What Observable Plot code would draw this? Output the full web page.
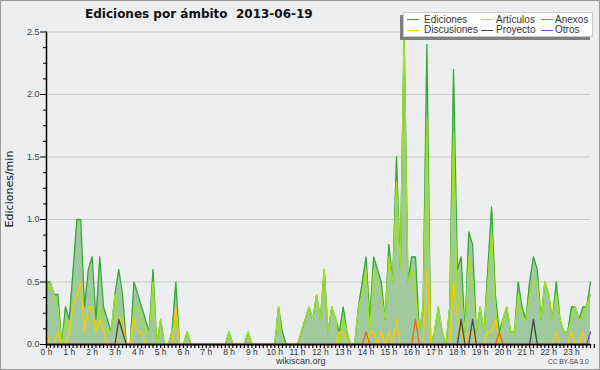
<!DOCTYPE html>
<html><head><meta charset="utf-8">
<script src="https://cdn.jsdelivr.net/npm/d3@7"></script>
<script src="https://cdn.jsdelivr.net/npm/@observablehq/plot@0.6"></script>
<style>
html,body{margin:0;padding:0;background:#edeef0;}
#wrap{position:relative;width:600px;height:370px;overflow:hidden;background:#edeef0;font-family:"Liberation Sans",Arial,sans-serif;}
#chart{position:absolute;left:0;top:0;}
#frame{position:absolute;left:0;top:0;width:600px;height:370px;box-sizing:border-box;border:1px solid #9a9a9a;pointer-events:none;}
.abs{position:absolute;white-space:nowrap;line-height:1;}
#title{left:85px;top:7.5px;font-family:"DejaVu Sans",sans-serif;font-size:12px;font-weight:bold;color:#111;}
#ytitle{left:8.5px;top:189px;font-family:"DejaVu Sans",sans-serif;font-size:11px;color:#111;transform:translate(-50%,-50%) rotate(-90deg);}
#legend{position:absolute;left:403px;top:12px;width:190px;height:25px;box-sizing:border-box;background:#fff;border:1px solid #c8c8c8;box-shadow:-3px 3px 0 #808080;}
.sw{position:absolute;width:12px;height:1.4px;}
.lt{position:absolute;font-size:10px;line-height:1;color:#333;white-space:nowrap;}
#src{left:276px;top:356.5px;font-size:9px;color:#333;}
#lic{left:548px;top:358.5px;font-size:6.5px;color:#444;}
</style></head><body>
<div id="wrap">
  <div id="chart"></div>
  <div id="title" class="abs">Ediciones por ámbito&nbsp;&nbsp;2013-06-19</div>
  <div id="ytitle" class="abs">Ediciones/min</div>
  <div id="legend"></div>
  <div id="src" class="abs">wikiscan.org</div>
  <div id="lic" class="abs">CC BY-SA 3.0</div>
  <div id="frame"></div>
</div>
<script>
// 10-minute slots 0..143 (00:00 .. 23:50), values in edits/min
const ediciones = [
  0.5,0.5,0.4,0.4,0,0.3,0.2,0.6,1.0,1.0,0.3,0.6,
  0.7,0.2,0.7,0.3,0.2,0.1,0.4,0.6,0.4,0,0,0.5,
  0.4,0.3,0.2,0.1,0.6,0,0.2,0,0,0.1,0.5,0,
  0,0.1,0,0,0,0,0,0,0,0,0,0,
  0.1,0,0,0,0,0.1,0,0,0,0,0,0,
  0,0.3,0.1,0,0,0,0,0.1,0.2,0.3,0.2,0.4,
  0.2,0.6,0.1,0.3,0.2,0.1,0.3,0.1,0,0,0.3,0.5,
  0.7,0.2,0.7,0.6,0.5,0.2,0.8,0.5,1.5,0.6,2.5,0.5,
  0.7,0.7,0.1,0.3,2.4,0,0.1,0.3,0.1,0,0.3,2.2,
  0.6,0.7,0.1,0.9,0.8,0.1,0.3,0.1,0.6,1.1,0.4,0.1,
  0.2,0.3,0.1,0.1,0.5,0.3,0.2,0.5,0.7,0.6,0.2,0.5,
  0.4,0.2,0.5,0.2,0.1,0.1,0.3,0.3,0.2,0.3,0.3,0.5
];
const articulos = [
  0.4,0.5,0.4,0.3,0,0.2,0.1,0.3,0.4,0.4,0.2,0.2,
  0.2,0.1,0.3,0.2,0.1,0.1,0.4,0.2,0.1,0,0,0.3,
  0.3,0.2,0.1,0.1,0.5,0,0.2,0,0,0.1,0.2,0,
  0,0.1,0,0,0,0,0,0,0,0,0,0,
  0.1,0,0,0,0,0.1,0,0,0,0,0,0,
  0,0.3,0,0,0,0,0,0.1,0.2,0.3,0.2,0.4,
  0.2,0.6,0.1,0.3,0.2,0,0.2,0.1,0,0,0.3,0.4,
  0.6,0.1,0.6,0.5,0.4,0.2,0.7,0.5,1.3,0.6,2.5,0.5,
  0.6,0.4,0.1,0.3,1.8,0,0.1,0.3,0.1,0,0.3,1.7,
  0.3,0.4,0.1,0.7,0.5,0.1,0.3,0.1,0.5,0.9,0.3,0,
  0.2,0.3,0.1,0.1,0.4,0.2,0.2,0.4,0.5,0.5,0.2,0.5,
  0.4,0.2,0.4,0.2,0.1,0.1,0.2,0.3,0.2,0.2,0.3,0.4
];
const discusiones = [
  0.1,0,0,0.1,0,0,0.1,0.3,0.4,0.5,0.1,0.3,
  0.3,0.1,0.2,0.1,0,0,0,0.2,0.2,0,0,0.2,
  0.1,0.1,0,0,0,0,0,0,0,0,0.3,0,
  0,0,0,0,0,0,0,0,0,0,0,0,
  0,0,0,0,0,0,0,0,0,0,0,0,
  0,0,0,0,0,0,0,0,0,0,0,0,
  0,0,0,0,0,0.1,0.1,0,0,0,0,0,
  0,0.1,0.1,0,0.1,0,0.1,0,0.2,0,0,0,
  0,0,0,0,0.6,0,0,0,0,0,0,0.5,
  0.2,0.1,0,0.1,0.1,0,0,0,0.1,0.1,0.2,0,
  0,0,0,0,0,0,0,0,0,0,0,0,
  0,0,0.1,0,0,0,0.1,0,0,0.1,0,0
];
const proyecto = [
  0,0,0,0,0,0,0,0,0,0,0,0,
  0,0,0,0,0,0,0,0.2,0.1,0,0,0,
  0,0,0,0,0,0,0,0,0,0,0,0,
  0,0,0,0,0,0,0,0,0,0,0,0,
  0,0,0,0,0,0,0,0,0,0,0,0,
  0,0,0,0,0,0,0,0,0,0,0,0,
  0,0,0,0,0,0,0,0,0,0,0,0,
  0,0,0,0,0,0,0,0,0,0,0,0,
  0,0,0,0,0,0,0,0,0,0,0,0,
  0,0.2,0,0,0.2,0,0,0,0,0,0,0,
  0,0,0,0,0,0,0,0,0.2,0,0,0,
  0,0,0,0,0,0,0,0,0,0,0,0
];
const anexos = [
  0,0,0,0,0,0,0,0,0,0,0,0,
  0,0,0,0,0,0,0,0,0,0,0,0,
  0,0,0,0,0,0,0,0,0,0,0,0,
  0,0,0,0,0,0,0,0,0,0,0,0,
  0,0,0,0,0,0,0,0,0,0,0,0,
  0,0,0,0,0,0,0,0,0,0,0,0,
  0,0,0,0,0,0,0,0,0,0,0,0,
  0.1,0,0,0,0,0,0,0,0,0,0,0,
  0,0.2,0,0,0,0,0,0,0,0,0,0,
  0,0,0,0,0,0,0,0,0,0,0,0.1,
  0,0,0,0,0,0,0,0,0,0,0,0,
  0,0,0,0,0,0,0,0,0,0,0,0
];
const otros = [
  0,0,0,0,0,0,0,0,0,0,0,0,
  0,0,0,0,0,0,0,0,0,0,0,0,
  0,0,0,0,0,0,0,0,0,0,0,0,
  0,0,0,0,0,0,0,0,0,0,0,0,
  0,0,0,0,0,0,0,0,0,0,0,0,
  0,0,0,0,0,0,0,0,0,0,0,0,
  0,0,0,0,0,0,0,0,0,0,0,0,
  0,0,0,0,0,0,0,0,0,0,0,0,
  0,0,0,0,0,0,0,0,0,0,0,0,
  0,0,0,0,0,0,0,0,0,0,0,0,
  0,0,0,0,0,0,0,0,0,0,0,0,
  0,0,0,0,0,0,0,0,0,0,0,0.1
];
const hours = d3.range(24);
const hourLabels = hours.map(h => h + " h");
const yMajor = [0, 0.5, 1.0, 1.5, 2.0, 2.5];
const yLabels = ["0.0","0.5","1.0","1.5","2.0","2.5"];
const seriesNames = ["Ediciones","Artículos","Anexos","Discusiones","Proyecto","Otros"];
const seriesColors = ["#35a835","#9de41c","#f0641e","#ffc800","#444444","#8040f0"];

const rows = ediciones.map((e, i) => ({
  t: i / 6, E: e, A: articulos[i], D: discusiones[i], P: proyecto[i], X: anexos[i], O: otros[i]
}));
const col = Object.fromEntries(seriesNames.map((n, i) => [n, seriesColors[i]]));
const yMinor = d3.range(0, 2.5001, 0.125).filter(v => Math.abs(v * 2 - Math.round(v * 2)) > 1e-6);
const xMinor = d3.range(0, 145).map(i => i / 6);

const lineOpts = (y, c) => ({x: "t", y, stroke: c, strokeWidth: 1.3, curve: "linear"});

const chart = Plot.plot({
  width: 600, height: 370,
  marginLeft: 46, marginRight: 10, marginTop: 31.5, marginBottom: 26,
  x: {domain: [0, 143 / 6], axis: null, label: null},
  y: {domain: [0, 2.5], axis: null, label: null},
  style: {background: "transparent", fontFamily: "'Liberation Sans', Arial, sans-serif", fontSize: "9px", color: "#333", overflow: "visible"},
  marks: [
    Plot.gridY(yMajor.filter(v => v > 0), {stroke: "#c8c8c8", strokeOpacity: 1}),
    Plot.areaY(rows, {x: "t", y: "E", fill: "#a0c9a0", fillOpacity: 1, curve: "linear"}),
    Plot.lineY(rows, lineOpts("E", col["Ediciones"])),
    Plot.lineY(rows, lineOpts("A", col["Artículos"])),
    Plot.lineY(rows, lineOpts("D", col["Discusiones"])),
    Plot.lineY(rows, lineOpts("P", col["Proyecto"])),
    Plot.lineY(rows, lineOpts("X", col["Anexos"])),
    Plot.lineY(rows, lineOpts("O", col["Otros"])),
    // minor y ticks (no labels)
    Plot.ruleY(yMinor, {y: d => d, x1: 0, x2: 0, insetLeft: -3, stroke: "#000"}),
    Plot.axisY({ticks: yMajor, label: null, tickSize: 6, tickPadding: 1, tickFormat: (d) => yLabels[yMajor.indexOf(d)], fontSize: 9, fill: "#444", stroke: "#000"}),
    Plot.ruleX([0], {stroke: "#000", strokeWidth: 1.5}),
    // 10-minute x ticks (no labels)
    Plot.ruleX(xMinor, {x: d => d, y1: 0, y2: 0, insetBottom: -4, stroke: "#000", strokeWidth: 1.2}),
    Plot.axisX({ticks: hours, label: null, tickSize: 0, tickPadding: 4, tickFormat: (d) => hourLabels[d], fontSize: 8.5, fill: "#333"}),
    Plot.ruleY([0], {stroke: "#000", strokeWidth: 1.5})
  ]
});
document.getElementById("chart").appendChild(chart);

// legend
const lg = document.getElementById("legend");
const items = [
  {n: "Ediciones", sx: 3, tx: 20, row: 0},
  {n: "Artículos", sx: 77, tx: 92, row: 0},
  {n: "Anexos", sx: 137, tx: 151, row: 0},
  {n: "Discusiones", sx: 3, tx: 20, row: 1},
  {n: "Proyecto", sx: 77, tx: 92, row: 1},
  {n: "Otros", sx: 137, tx: 151, row: 1}
];
items.forEach(it => {
  const s = document.createElement("div");
  s.className = "sw";
  s.style.left = it.sx + "px";
  s.style.top = (it.row ? 16.5 : 6) + "px";
  s.style.background = col[it.n];
  lg.appendChild(s);
  const t = document.createElement("div");
  t.className = "lt";
  t.style.left = it.tx + "px";
  t.style.top = (it.row ? 11.5 : 1.5) + "px";
  t.textContent = it.n;
  lg.appendChild(t);
});
</script>
</body></html>
